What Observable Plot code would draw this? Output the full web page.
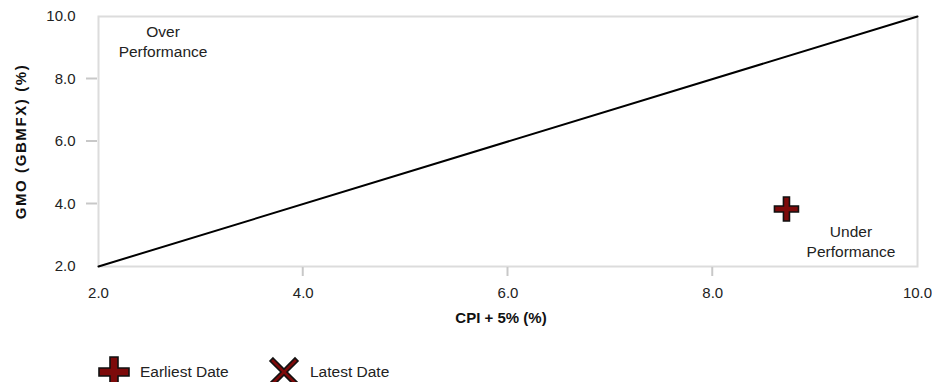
<!DOCTYPE html>
<html>
<head>
<meta charset="utf-8">
<script src="https://cdn.jsdelivr.net/npm/d3@7"></script>
<script src="https://cdn.jsdelivr.net/npm/@observablehq/plot@0.6"></script>
<style>
  html, body { margin: 0; padding: 0; background: #fff; }
  body { font-family: "Liberation Sans", Arial, sans-serif; }
  #wrap { position: relative; width: 932px; height: 382px; }
  #legend { position: absolute; left: 0; top: 340px; width: 932px; height: 42px; }
  .item { position: absolute; display: flex; align-items: center; font-size: 15.5px; color: #222; }
  .item svg { margin-right: 10px; }
  .ylab text { letter-spacing: 1.6px; }
</style>
</head>
<body>
<div id="wrap">
  <div id="chart"></div>
  <div id="legend"></div>
</div>
<script>
// ---- data ----
const axisTicks = [2, 4, 6, 8, 10];
const innerTicks = [4, 6, 8];
const parityLine = [[2, 2], [10, 10]];
const earliest = [{date: "Earliest Date", cpi: 8.72, gmo: 3.84}];
const latest = [];
const annotations = [
  {x: 2.63, y: 9.23, text: "Over\nPerformance"},
  {x: 9.35, y: 2.83, text: "Under\nPerformance"}
];
const xLabel = "CPI + 5% (%)";
const yLabel = "GMO (GBMFX) (%)";
const legendItems = ["Earliest Date", "Latest Date"];

const FILL = "#7d0a0a";
const W = 932, H = 340, ML = 98, MR = 15, MT = 16, MB = 74;

const plusSymbol = {
  draw(ctx, size) {
    const r = Math.sqrt(size / Math.PI), t = r * 0.25;
    ctx.moveTo(-t, -r); ctx.lineTo(t, -r); ctx.lineTo(t, -t); ctx.lineTo(r, -t);
    ctx.lineTo(r, t); ctx.lineTo(t, t); ctx.lineTo(t, r); ctx.lineTo(-t, r);
    ctx.lineTo(-t, t); ctx.lineTo(-r, t); ctx.lineTo(-r, -t); ctx.lineTo(-t, -t);
    ctx.closePath();
  }
};

const chart = Plot.plot({
  width: W,
  height: H,
  marginLeft: ML,
  marginRight: MR,
  marginTop: MT,
  marginBottom: MB,
  style: {fontFamily: "'Liberation Sans', Arial, sans-serif", fontSize: "15px", color: "#222", overflow: "visible"},
  x: {domain: [2, 10]},
  y: {domain: [2, 10]},
  marks: [
    Plot.frame({stroke: "#dcdcdc", strokeWidth: 2}),
    Plot.axisX({ticks: axisTicks, tickSize: 0, tickPadding: 21, tickFormat: d => d.toFixed(1), label: null, fontSize: 15}),
    Plot.axisY({ticks: axisTicks, tickSize: 0, tickPadding: 23, tickFormat: d => d.toFixed(1), label: null, fontSize: 15}),
    Plot.line(parityLine, {x: d => d[0], y: d => d[1], stroke: "#000", strokeWidth: 2}),
    Plot.text(annotations, {x: "x", y: "y", text: "text", fontSize: 15.5, lineHeight: 1.3, fill: "#222"}),
    Plot.dot(earliest, {x: "cpi", y: "gmo", symbol: plusSymbol, r: 12, fill: FILL, stroke: "#111", strokeWidth: 1.6}),
    Plot.text([xLabel], {text: d => d, frameAnchor: "bottom", textAnchor: "middle", lineAnchor: "middle", dy: 52, dx: -7, fontWeight: "bold", fontSize: 15, fill: "#111"}),
    Plot.text([yLabel], {text: d => d, frameAnchor: "left", textAnchor: "middle", lineAnchor: "middle", dx: -77, rotate: -90, fontWeight: "bold", fontSize: 15, fill: "#111", className: "ylab"}),
    // outer tick marks at the inner tick values, drawn with the scales
    (index, scales, values, dims) => {
      const g = document.createElementNS("http://www.w3.org/2000/svg", "g");
      const yb = dims.height - dims.marginBottom, xl = dims.marginLeft;
      for (const v of innerTicks) {
        const xv = scales.x(v), yv = scales.y(v);
        const a = document.createElementNS("http://www.w3.org/2000/svg", "line");
        a.setAttribute("x1", xv); a.setAttribute("x2", xv);
        a.setAttribute("y1", yb + 1); a.setAttribute("y2", yb + 10);
        a.setAttribute("stroke", "#c8c8c8"); a.setAttribute("stroke-width", 2);
        g.appendChild(a);
        const b = document.createElementNS("http://www.w3.org/2000/svg", "line");
        b.setAttribute("x1", xl - 12); b.setAttribute("x2", xl - 1);
        b.setAttribute("y1", yv); b.setAttribute("y2", yv);
        b.setAttribute("stroke", "#c8c8c8"); b.setAttribute("stroke-width", 2);
        g.appendChild(b);
      }
      return g;
    }
  ]
});
document.getElementById("chart").appendChild(chart);

// legend
const legend = document.getElementById("legend");
const plusPath = "M-4,-15 L4,-15 L4,-4 L15,-4 L15,4 L4,4 L4,15 L-4,15 L-4,4 L-15,4 L-15,-4 L-4,-4 Z";
const xPath = "M-11,-14 L0,-3 L11,-14 L14,-11 L3,0 L14,11 L11,14 L0,3 L-11,14 L-14,11 L-3,0 L-14,-11 Z";
const legendSpecs = [
  {label: legendItems[0], path: plusPath, left: 98},
  {label: legendItems[1], path: xPath, left: 268}
];
for (const s of legendSpecs) {
  const div = document.createElement("div");
  div.className = "item";
  div.style.left = s.left + "px";
  div.style.top = "16px";
  div.innerHTML = `<svg width="32" height="32" viewBox="-16 -16 32 32"><path d="${s.path}" fill="${FILL}" stroke="#111" stroke-width="1.6"/></svg><span>${s.label}</span>`;
  legend.appendChild(div);
}
</script>
</body>
</html>
